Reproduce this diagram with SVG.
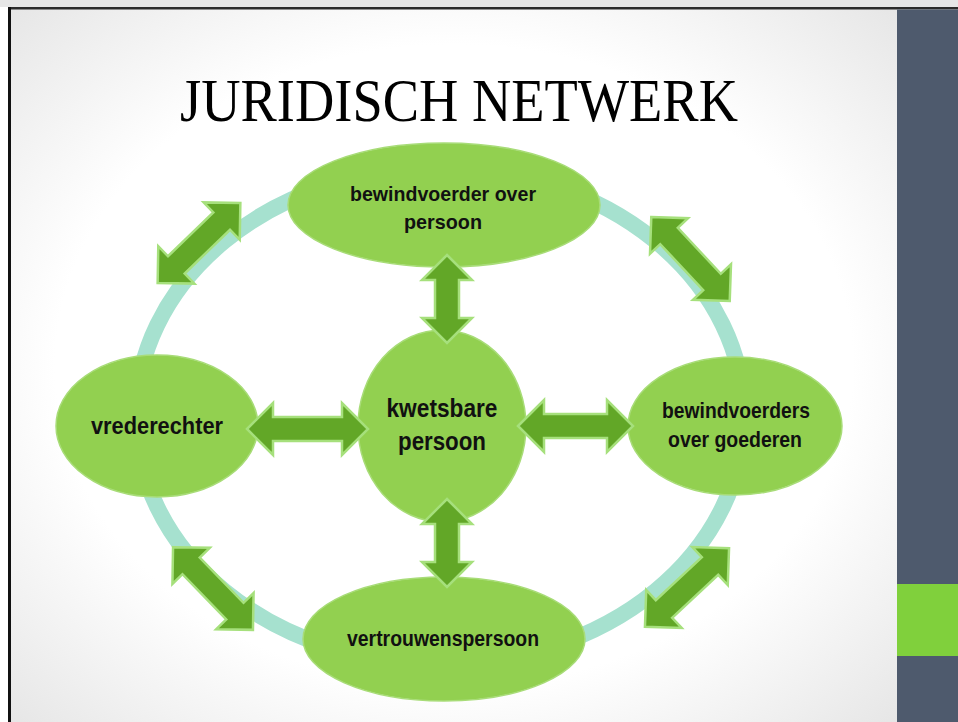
<svg xmlns="http://www.w3.org/2000/svg" width="958" height="722" viewBox="0 0 958 722">
  <defs>
    <radialGradient id="bg" cx="0.5" cy="0.5" r="0.75">
      <stop offset="0" stop-color="#ffffff"/>
      <stop offset="0.6" stop-color="#ffffff"/>
      <stop offset="1" stop-color="#e2e2e2"/>
    </radialGradient>
    <path id="a115" d="M-57.5,0 L-31.5,-26 L-31.5,-12 L31.5,-12 L31.5,-26 L57.5,0 L31.5,26 L31.5,12 L-31.5,12 L-31.5,26 Z"/>
    <path id="a121" d="M-60.5,0 L-34.5,-26 L-34.5,-12 L34.5,-12 L34.5,-26 L60.5,0 L34.5,26 L34.5,12 L-34.5,12 L-34.5,26 Z"/>
    <path id="a88" d="M-44,0 L-19,-25 L-19,-12 L19,-12 L19,-25 L44,0 L19,25 L19,12 L-19,12 L-19,25 Z"/>
  </defs>
  <style>
    .node { fill: #92D050; stroke: #a8dc78; stroke-width: 1.5; }
    .arrow { fill: #62A727; stroke: #a6e07c; stroke-width: 2.5; stroke-linejoin: miter; }
    .ring { fill: none; stroke: #A6E1CF; stroke-width: 16; }
    .lbl { font-family: "Liberation Sans", Arial, sans-serif; font-weight: bold; fill: #111111; text-anchor: middle; }
    .title { font-family: "Liberation Serif", "Times New Roman", serif; font-size: 62px; fill: #000000; }
  </style>

  <!-- page -->
  <rect x="0" y="0" width="958" height="722" fill="#ffffff"/>
  <rect x="0" y="0" width="958" height="7" fill="#e6e6e6"/>
  <rect x="11" y="9" width="886" height="713" fill="url(#bg)"/>
  <rect x="8" y="7" width="950" height="2.5" fill="#2b2b2b"/>
  <rect x="8" y="7" width="3" height="715" fill="#111111"/>
  <rect x="897" y="9.5" width="61" height="713" fill="#4E5A6D"/>
  <rect x="897" y="584" width="61" height="72" fill="#80D03C"/>

  <text class="title" x="180" y="121" textLength="558" lengthAdjust="spacingAndGlyphs">JURIDISCH NETWERK</text>

  <!-- ring -->
  <ellipse class="ring" cx="440" cy="416" rx="304" ry="248"/>

  <!-- nodes -->
  <g id="node-top">
    <ellipse class="node" cx="444" cy="205" rx="156" ry="62"/>
    <text class="lbl" x="443" y="201" font-size="21" textLength="186" lengthAdjust="spacingAndGlyphs">bewindvoerder over</text>
    <text class="lbl" x="443" y="229" font-size="21" textLength="78" lengthAdjust="spacingAndGlyphs">persoon</text>
  </g>
  <g id="node-center">
    <ellipse class="node" cx="442" cy="426" rx="84" ry="96"/>
    <text class="lbl" x="442" y="417" font-size="25" textLength="111" lengthAdjust="spacingAndGlyphs">kwetsbare</text>
    <text class="lbl" x="442" y="450" font-size="25" textLength="88" lengthAdjust="spacingAndGlyphs">persoon</text>
  </g>
  <g id="node-left">
    <ellipse class="node" cx="157" cy="426" rx="101" ry="71"/>
    <text class="lbl" x="157" y="434" font-size="23" textLength="132" lengthAdjust="spacingAndGlyphs">vrederechter</text>
  </g>
  <g id="node-right">
    <ellipse class="node" cx="735" cy="426" rx="107" ry="69"/>
    <text class="lbl" x="736" y="418" font-size="22" textLength="148" lengthAdjust="spacingAndGlyphs">bewindvoerders</text>
    <text class="lbl" x="735" y="447" font-size="22" textLength="134" lengthAdjust="spacingAndGlyphs">over goederen</text>
  </g>
  <g id="node-bottom">
    <ellipse class="node" cx="444" cy="639" rx="141" ry="62"/>
    <text class="lbl" x="443" y="646" font-size="22" textLength="192" lengthAdjust="spacingAndGlyphs">vertrouwenspersoon</text>
  </g>

  <!-- connectors -->
  <g id="connectors">
    <use href="#a121" class="arrow" transform="translate(307.5,429)"/>
    <use href="#a115" class="arrow" transform="translate(575.5,426)"/>
    <use href="#a88" class="arrow" transform="translate(447,299) rotate(90)"/>
    <use href="#a88" class="arrow" transform="translate(447,543) rotate(90)"/>
    <use href="#a115" class="arrow" transform="translate(199,243) rotate(-44)"/>
    <use href="#a115" class="arrow" transform="translate(690.5,259) rotate(47)"/>
    <use href="#a115" class="arrow" transform="translate(213,588.5) rotate(46)"/>
    <use href="#a115" class="arrow" transform="translate(687,587.5) rotate(-43)"/>
  </g>
</svg>
